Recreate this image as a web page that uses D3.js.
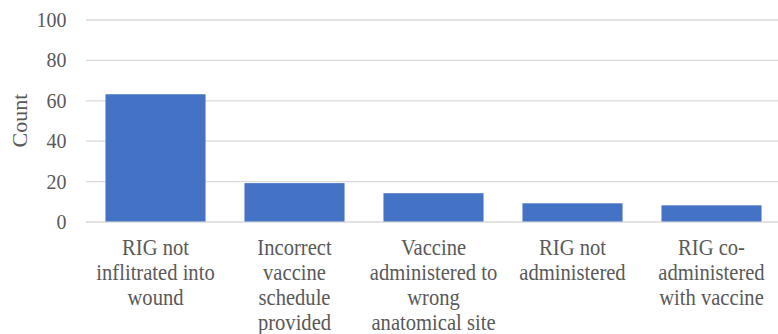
<!DOCTYPE html>
<html>
<head>
<meta charset="utf-8">
<script src="https://cdn.jsdelivr.net/npm/d3@7"></script>
<style>
  html, body { margin: 0; padding: 0; background: #fff; }
  svg { display: block; }
</style>
</head>
<body>
<svg id="chart" width="778" height="334"></svg>
<script>
// Medication error categories (each label split into its display lines)
const categories = [
  ["RIG not", "inflitrated into", "wound"],
  ["Incorrect", "vaccine", "schedule", "provided"],
  ["Vaccine", "administered to", "wrong", "anatomical site"],
  ["RIG not", "administered"],
  ["RIG co-", "administered", "with vaccine"]
];
const counts = [63, 19, 14, 9, 8];
const yTicks = [0, 20, 40, 60, 80, 100];
const yTitle = "Count";

const svg = d3.select("#chart");
const font = "'Liberation Serif', 'Times New Roman', serif";
const textColor = "#595959";
const stretch = 1.1; // glyphs are drawn slightly taller than wide

const plot = { left: 86, right: 781, top: 19.5, bottom: 221.5 };

const x = d3.scaleBand()
  .domain(d3.range(categories.length))
  .range([plot.left, plot.right])
  .paddingInner(0.28)
  .paddingOuter(0.14);

const y = d3.scaleLinear()
  .domain([0, 100])
  .range([plot.bottom, plot.top]);

// Horizontal gridlines and tick labels
const yAxis = d3.axisLeft(y)
  .tickValues(yTicks)
  .tickSize(-(778 - plot.left))
  .tickPadding(19);

const gy = svg.append("g")
  .attr("transform", `translate(${plot.left},0)`)
  .call(yAxis);
gy.select(".domain").remove();
gy.selectAll(".tick line")
  .attr("stroke", "#d9d9d9")
  .attr("stroke-width", 1.3);
gy.selectAll(".tick text")
  .attr("fill", textColor)
  .attr("dy", null)
  .attr("y", null)
  .attr("x", null)
  .attr("transform", `translate(-19.5,7) scale(1,${stretch})`)
  .style("font-family", font)
  .style("font-size", "20px");

// Bars
svg.append("g")
  .selectAll("rect")
  .data(counts)
  .join("rect")
  .attr("x", (d, i) => x(i))
  .attr("width", x.bandwidth())
  .attr("y", d => y(d))
  .attr("height", d => y(0) - y(d))
  .attr("fill", "#4472c4");

// Category labels, one text element per line
const lineHeight = 25;
const firstBaseline = 254.5;
const labelGroups = svg.append("g")
  .selectAll("g")
  .data(categories)
  .join("g")
  .attr("transform", (d, i) => `translate(${x(i) + x.bandwidth() / 2},0)`);

labelGroups.selectAll("text")
  .data(d => d)
  .join("text")
  .attr("text-anchor", "middle")
  .attr("fill", textColor)
  .attr("transform", (l, j) => `translate(0,${firstBaseline + j * lineHeight}) scale(1,${stretch})`)
  .style("font-family", font)
  .style("font-size", "20.6px")
  .text(l => l);

// Axis title
svg.append("text")
  .attr("transform", `translate(27,${(plot.top + plot.bottom) / 2}) rotate(-90)`)
  .attr("text-anchor", "middle")
  .attr("fill", textColor)
  .style("font-family", font)
  .style("font-size", "22px")
  .text(yTitle);
</script>
</body>
</html>
